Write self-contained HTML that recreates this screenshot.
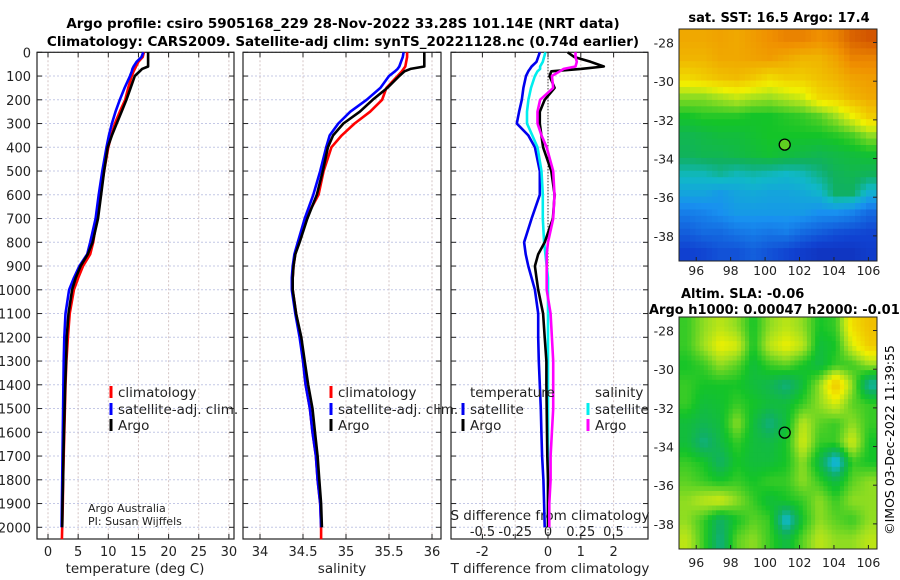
<!DOCTYPE html>
<html><head><meta charset="utf-8">
<style>
html,body{margin:0;padding:0;background:#fff;}
svg{display:block;font-family:"DejaVu Sans","Liberation Sans",sans-serif;}
</style></head>
<body>
<svg id="fig" width="900" height="580" viewBox="0 0 900 580" xmlns="http://www.w3.org/2000/svg">
<rect x="0" y="0" width="900" height="580" fill="#fff"/>
<text x="343" y="28" text-anchor="middle" font-size="13.5" font-weight="bold">Argo profile: csiro 5905168_229 28-Nov-2022 33.28S 101.14E (NRT data)</text>
<text x="343" y="46" text-anchor="middle" font-size="13.5" font-weight="bold">Climatology: CARS2009. Satellite-adj clim: synTS_20221128.nc (0.74d earlier)</text>
<text x="779" y="22" text-anchor="middle" font-size="13" font-weight="bold">sat. SST: 16.5 Argo: 17.4</text>
<text x="681" y="298" font-size="13" font-weight="bold">Altim. SLA: -0.06</text>
<text x="649" y="314" font-size="13" font-weight="bold">Argo h1000: 0.00047 h2000: -0.01</text>
<text x="0" y="0" transform="translate(894,440) rotate(-90)" text-anchor="middle" font-size="12.5">©IMOS 03-Dec-2022 11:39:55</text>
<g id="plots"></g>
</svg>
<script>
// ---------- profile data ----------
const depths = [0,20,40,60,70,80,100,150,200,250,300,350,400,500,600,700,800,850,900,950,1000,1100,1200,1300,1400,1500,1600,1700,1800,1900,2000];
const climDepths = depths.concat([2050]);
const tempClim = [15.9,15.7,15.0,14.6,14.4,14.2,13.9,13.3,12.8,11.9,11.1,10.5,10.0,9.3,8.7,8.1,7.5,7.0,5.8,5.0,4.3,3.6,3.3,3.05,2.9,2.8,2.7,2.6,2.5,2.45,2.35,2.3];
const tempSat = [15.8,15.5,14.7,14.2,14.0,13.9,13.6,12.7,11.9,11.2,10.6,10.1,9.7,9.0,8.4,7.9,7.0,6.5,5.2,4.3,3.5,2.9,2.7,2.6,2.55,2.5,2.45,2.4,2.35,2.3,2.25];
const tempArgo = [16.6,16.6,16.6,16.6,15.6,15.2,14.4,13.7,13.0,12.2,11.4,10.6,9.9,9.3,8.8,8.3,7.4,6.6,5.4,4.6,4.0,3.4,3.1,3.0,2.85,2.75,2.65,2.55,2.5,2.4,2.35];
const salClim = [35.71,35.71,35.70,35.69,35.67,35.65,35.60,35.47,35.42,35.28,35.10,34.95,34.83,34.74,34.68,34.53,34.45,34.41,34.39,34.38,34.38,34.42,34.47,34.50,34.53,34.58,34.61,34.65,34.67,34.70,34.71,34.71];
const salSat = [35.67,35.66,35.64,35.62,35.60,35.57,35.50,35.40,35.24,35.05,34.91,34.81,34.77,34.70,34.62,34.52,34.44,34.40,34.38,34.37,34.37,34.41,34.46,34.50,34.53,34.58,34.61,34.65,34.67,34.70,34.71];
const salArgo = [35.91,35.91,35.91,35.91,35.75,35.68,35.62,35.48,35.31,35.16,34.97,34.85,34.79,34.73,34.66,34.55,34.46,34.41,34.39,34.38,34.38,34.42,34.48,34.52,34.56,34.61,34.64,34.67,34.69,34.71,34.72];
const dTSat = [-0.25,-0.3,-0.35,-0.5,-0.55,-0.6,-0.67,-0.75,-0.8,-0.88,-0.95,-0.6,-0.4,-0.25,-0.25,-0.5,-0.73,-0.68,-0.6,-0.5,-0.4,-0.3,-0.3,-0.28,-0.25,-0.22,-0.2,-0.18,-0.14,-0.12,-0.1];
const dTArgo = [0.6,0.8,1.3,1.7,1.0,0.1,0.05,0.2,-0.1,-0.25,-0.25,-0.2,-0.15,0.1,0.2,0.15,-0.1,-0.3,-0.4,-0.35,-0.3,-0.15,-0.1,-0.05,-0.05,-0.04,-0.03,-0.02,0,0,0];
const dSSat = [-0.02,-0.03,-0.04,-0.06,-0.06,-0.08,-0.1,-0.13,-0.15,-0.16,-0.16,-0.12,-0.08,-0.05,-0.04,-0.04,-0.03,-0.02,-0.01,0,0,0,0,0,0,0,0,0,0,0,0];
const dSArgo = [0.21,0.21,0.22,0.21,0.12,0.09,0.03,0.04,-0.06,-0.08,-0.08,-0.05,-0.01,0.04,0.05,0.04,0,-0.01,-0.01,-0.01,-0.01,0.02,0.03,0.04,0.04,0.04,0.03,0.02,0.02,0.01,0.01];
const depthTicks = [0,100,200,300,400,500,600,700,800,900,1000,1100,1200,1300,1400,1500,1600,1700,1800,1900,2000];
const tempTicks = [0,5,10,15,20,25,30];
const salTicks = [34,34.5,35,35.5,36];
const salTickLabels = ["34","34.5","35","35.5","36"];
const dTTicks = [-2,-1,0,1,2];
const dTTickLabels = ["-2","","0","1","2"];
const dSTicks = [-0.5,-0.25,0,0.25,0.5];
const dSTickLabels = ["-0.5","-0.25","0","0.25","0.5"];
// ---------- map data (values 0..1 on colour scale), rows north->south ----------
const lonTicks = [96,98,100,102,104,106];
const latTicks = [-28,-30,-32,-34,-36,-38];
const argoLon = 101.14, argoLat = -33.28;
const sstGrid = [
[.74,.74,.75,.74,.76,.78,.80,.80,.78,.80,.85,.87],
[.72,.72,.74,.74,.75,.76,.74,.72,.72,.75,.80,.80],
[.66,.68,.70,.71,.69,.66,.68,.68,.70,.72,.75,.76],
[.55,.55,.57,.59,.57,.56,.58,.60,.66,.68,.72,.74],
[.48,.49,.49,.49,.48,.48,.49,.50,.52,.56,.62,.68],
[.44,.45,.46,.46,.47,.48,.48,.48,.48,.49,.51,.55],
[.43,.44,.44,.45,.46,.47,.46,.45,.44,.45,.46,.47],
[.37,.37,.39,.37,.38,.37,.36,.37,.40,.43,.44,.43],
[.32,.32,.30,.32,.33,.32,.32,.33,.35,.42,.42,.34],
[.25,.26,.28,.30,.30,.30,.30,.30,.28,.28,.26,.22],
[.20,.22,.22,.24,.25,.24,.25,.22,.20,.18,.17,.16],
[.15,.16,.18,.18,.20,.18,.16,.14,.12,.12,.12,.14]];
const slaGrid = [
[.50,.55,.58,.55,.48,.55,.58,.55,.48,.50,.65,.70],
[.50,.56,.62,.60,.48,.58,.62,.58,.46,.48,.60,.68],
[.48,.50,.55,.52,.46,.50,.52,.48,.45,.50,.50,.55],
[.50,.48,.48,.48,.46,.44,.40,.46,.55,.70,.55,.38],
[.50,.46,.47,.50,.48,.46,.46,.50,.55,.60,.52,.50],
[.46,.44,.46,.55,.46,.40,.46,.58,.52,.50,.55,.50],
[.46,.40,.45,.50,.46,.45,.48,.60,.50,.50,.60,.48],
[.50,.48,.42,.48,.46,.46,.48,.55,.45,.32,.50,.48],
[.52,.50,.48,.50,.48,.50,.50,.55,.50,.45,.52,.55],
[.55,.58,.60,.55,.50,.46,.48,.50,.55,.50,.55,.55],
[.55,.50,.42,.48,.52,.50,.34,.48,.55,.52,.50,.55],
[.58,.50,.40,.52,.55,.50,.45,.52,.58,.55,.55,.58]];

const NS='http://www.w3.org/2000/svg';
const root=document.getElementById('plots');
function mk(tag,attrs,parent){const e=document.createElementNS(NS,tag);for(const k in attrs)e.setAttribute(k,attrs[k]);(parent||root).appendChild(e);return e;}

const Y0=52.3, Y1=539, yPerM=0.2375;
const yD=d=>Y0+d*yPerM;
const panels=[
 {name:'temperature',x0:37,x1:234,f:v=>48+v*6.03},
 {name:'salinity',x0:243,x1:441,f:v=>260+(v-34)*86},
 {name:'difference',x0:451,x1:648,f:v=>548+v*32.8}
];
const sx=v=>548+v*131;

panels.forEach((p,pi)=>{
  const g=mk('g',{});
  
  
  depthTicks.forEach(d=>{
    const l=mk('line',{x1:p.x0,x2:p.x1,y1:yD(d),y2:yD(d),stroke:'#c4c8e6','stroke-width':1,'stroke-dasharray':'2,2'},g);
    
    
    const t1=mk('line',{x1:p.x0,x2:p.x0+5,y1:yD(d),y2:yD(d),stroke:'#222','stroke-width':1},g);
    
    
    const t2=mk('line',{x1:p.x1-5,x2:p.x1,y1:yD(d),y2:yD(d),stroke:'#222','stroke-width':1},g);
    
    
  });
  const xt = pi===0?tempTicks:(pi===1?salTicks:dTTicks);
  const xl = pi===0?tempTicks.map(String):(pi===1?salTickLabels:dTTickLabels);
  xt.forEach((v,i)=>{
    const x=p.f(v);
    const l=mk('line',{x1:x,x2:x,y1:Y0,y2:Y1,stroke:'#d4c4c4','stroke-width':1,'stroke-dasharray':'2,2'},g);
    
    
    const tk=mk('line',{x1:x,x2:x,y1:Y1-5,y2:Y1,stroke:'#222'},g);
    
    
    const tk2=mk('line',{x1:x,x2:x,y1:Y0,y2:Y0+5,stroke:'#222'},g);
    
    
    const t=mk('text',{x:x,y:556,'text-anchor':'middle','font-size':13,fill:'#222'},g);
    t.textContent=xl[i];
    
    
  });
  if(pi===2){
    const z=mk('line',{x1:548,x2:548,y1:Y0,y2:Y1,stroke:'#000','stroke-width':1,'stroke-dasharray':'1,2'},g);
    
    
  }
  const fr=mk('rect',{x:p.x0,y:Y0,width:p.x1-p.x0,height:Y1-Y0,fill:'none',stroke:'#222','stroke-width':1.2},g);
  
  
});
depthTicks.forEach(d=>{
  const t=mk('text',{x:31,y:yD(d)+5,'text-anchor':'end','font-size':13,fill:'#222'});
  t.textContent=String(d);
  
  
});
[['temperature (deg C)',135,'temperature-axis-title'],['salinity',342,'salinity-axis-title'],['T difference from climatology',550,'t-diff-axis-title']].forEach(a=>{
  const t=mk('text',{x:a[1],y:573,'text-anchor':'middle','font-size':13.5,fill:'#222'});
  t.textContent=a[0];
  
  
});
const st=mk('text',{x:550,y:520,'text-anchor':'middle','font-size':13.5,fill:'#222'});
st.textContent='S difference from climatology';


dSTicks.forEach((v,i)=>{
  const t=mk('text',{x:sx(v),y:536,'text-anchor':'middle','font-size':13,fill:'#222'});
  t.textContent=dSTickLabels[i];
  
  
});

function line(ds,vals,fx,color,name){
  const pts=vals.map((v,i)=>fx(v).toFixed(1)+','+yD(ds[i]).toFixed(1)).join(' ');
  const pl=mk('polyline',{points:pts,fill:'none',stroke:color,'stroke-width':2.6,'stroke-linejoin':'round'});
  
  
}
const fT=panels[0].f, fS=panels[1].f, fD=panels[2].f;
line(climDepths,tempClim,fT,'#ff0000','temp-climatology-line');
line(depths,tempSat,fT,'#0000ff','temp-satellite-line');
line(depths,tempArgo,fT,'#000000','temp-argo-line');
line(climDepths,salClim,fS,'#ff0000','sal-climatology-line');
line(depths,salSat,fS,'#0000ff','sal-satellite-line');
line(depths,salArgo,fS,'#000000','sal-argo-line');
line(depths,dTSat,fD,'#0000ee','t-diff-satellite-line');
line(depths,dSSat,sx,'#00eeee','s-diff-satellite-line');
line(depths,dTArgo,fD,'#000000','t-diff-argo-line');
line(depths,dSArgo,sx,'#ff00ff','s-diff-argo-line');

function legend(x,y,color,label,name){
  const m=mk('rect',{x:x-1.5,y:y-6,width:3,height:12,fill:color});
  
  
  if(label){
    const t=mk('text',{x:x+7,y:y+5,'font-size':13.5,fill:'#222'});
    t.textContent=label;
    
    
  }
}
legend(111,392,'#ff0000','climatology','legend-climatology');
legend(111,409,'#0000ff','satellite-adj. clim.','legend-satellite');
legend(111,425,'#000','Argo','legend-argo');
legend(331,392,'#ff0000','climatology','legend-climatology-2');
legend(331,409,'#0000ff','satellite-adj. clim.','legend-satellite-2');
legend(331,425,'#000','Argo','legend-argo-2');
[['temperature',470,'legend-temperature-heading'],['salinity',595,'legend-salinity-heading']].forEach(a=>{
  const t=mk('text',{x:a[1],y:397,'font-size':13.5,fill:'#222'});
  t.textContent=a[0];
  
  
});
legend(463,409,'#0000ee','satellite','legend-t-satellite');
legend(463,425,'#000','Argo','legend-t-argo');
legend(588,409,'#00eeee','satellite','legend-s-satellite');
legend(588,425,'#ff00ff','Argo','legend-s-argo');
const c1=mk('text',{x:88,y:512,'font-size':11,fill:'#222'});
c1.textContent='Argo Australia';


const c2=mk('text',{x:88,y:525,'font-size':11,fill:'#222'});
c2.textContent='PI: Susan Wijffels';



// ---------- maps ----------
const stops=[[0,[16,16,138]],[.15,[16,64,208]],[.28,[24,144,240]],[.36,[16,184,200]],[.42,[16,176,100]],[.48,[20,196,40]],[.56,[160,224,32]],[.62,[240,240,0]],[.70,[240,192,0]],[.78,[240,144,0]],[.88,[208,80,0]],[1,[144,16,0]]];
function cmap(v){
  for(let i=1;i<stops.length;i++){if(v<=stops[i][0]){const a=stops[i-1],b=stops[i],t=(v-a[0])/(b[0]-a[0]);const c=a[1].map((x,k)=>Math.round(x+(b[1][k]-x)*t));return 'rgb('+c.join(',')+')';}}
  return 'rgb(144,16,0)';
}
function sample(grid,fr,fc){
  const R=grid.length,C=grid[0].length;
  const r=Math.max(0,Math.min(R-1,fr)), c=Math.max(0,Math.min(C-1,fc));
  const r0=Math.floor(r),c0=Math.floor(c),r1=Math.min(R-1,r0+1),c1=Math.min(C-1,c0+1);
  const tr=r-r0,tc=c-c0;
  const a=grid[r0][c0]*(1-tc)+grid[r0][c1]*tc, b=grid[r1][c0]*(1-tc)+grid[r1][c1]*tc;
  return a*(1-tr)+b*tr;
}
function drawMap(grid,top,name,labelY,sub){
  const x0=679,x1=877,bottom=top+232;
  const lonMin=95.0,lonMax=106.5,latTop=-27.3,latBot=-39.3;
  const lx=lon=>x0+(lon-lonMin)/(lonMax-lonMin)*(x1-x0);
  const ly=lat=>top+(latTop-lat)/(latTop-latBot)*(bottom-top);
  const g=mk('g',{});
  
  
  const rows=grid.length*sub, cols=grid[0].length*sub;
  const cw=(x1-x0)/cols, ch=(bottom-top)/rows;
  for(let r=0;r<rows;r++)for(let c=0;c<cols;c++){
    const v=sample(grid,(r+0.5)/sub-0.5,(c+0.5)/sub-0.5);
    const cell=mk('rect',{x:(x0+c*cw).toFixed(2),y:(top+r*ch).toFixed(2),width:(cw+0.5).toFixed(2),height:(ch+0.5).toFixed(2),fill:cmap(v)},g);
    
    
  }
  lonTicks.forEach(lon=>{
    const x=lx(lon);
    const tk=mk('line',{x1:x,x2:x,y1:bottom-4,y2:bottom,stroke:'#222'},g);
    
    
    const t=mk('text',{x:x,y:labelY,'text-anchor':'middle','font-size':12.5,fill:'#222'},g);
    t.textContent=String(lon);
    
    
  });
  latTicks.forEach(lat=>{
    const y=ly(lat);
    const tk=mk('line',{x1:x1-4,x2:x1,y1:y,y2:y,stroke:'#222'},g);
    
    
    const t=mk('text',{x:674,y:y+5,'text-anchor':'end','font-size':12.5,fill:'#222'},g);
    t.textContent=String(lat);
    
    
  });
  const fr=mk('rect',{x:x0,y:top,width:x1-x0,height:bottom-top,fill:'none',stroke:'#222','stroke-width':1},g);
  
  
  const pt=mk('circle',{cx:lx(argoLon),cy:ly(argoLat),r:5.5,fill:name==='sst-map'?'#60d020':'none',stroke:'#000','stroke-width':1.3},g);
  
  
}
drawMap(sstGrid,29,'sst-map',275,3);
drawMap(slaGrid,317,'sla-map',567,4);
</script>
</body></html>
